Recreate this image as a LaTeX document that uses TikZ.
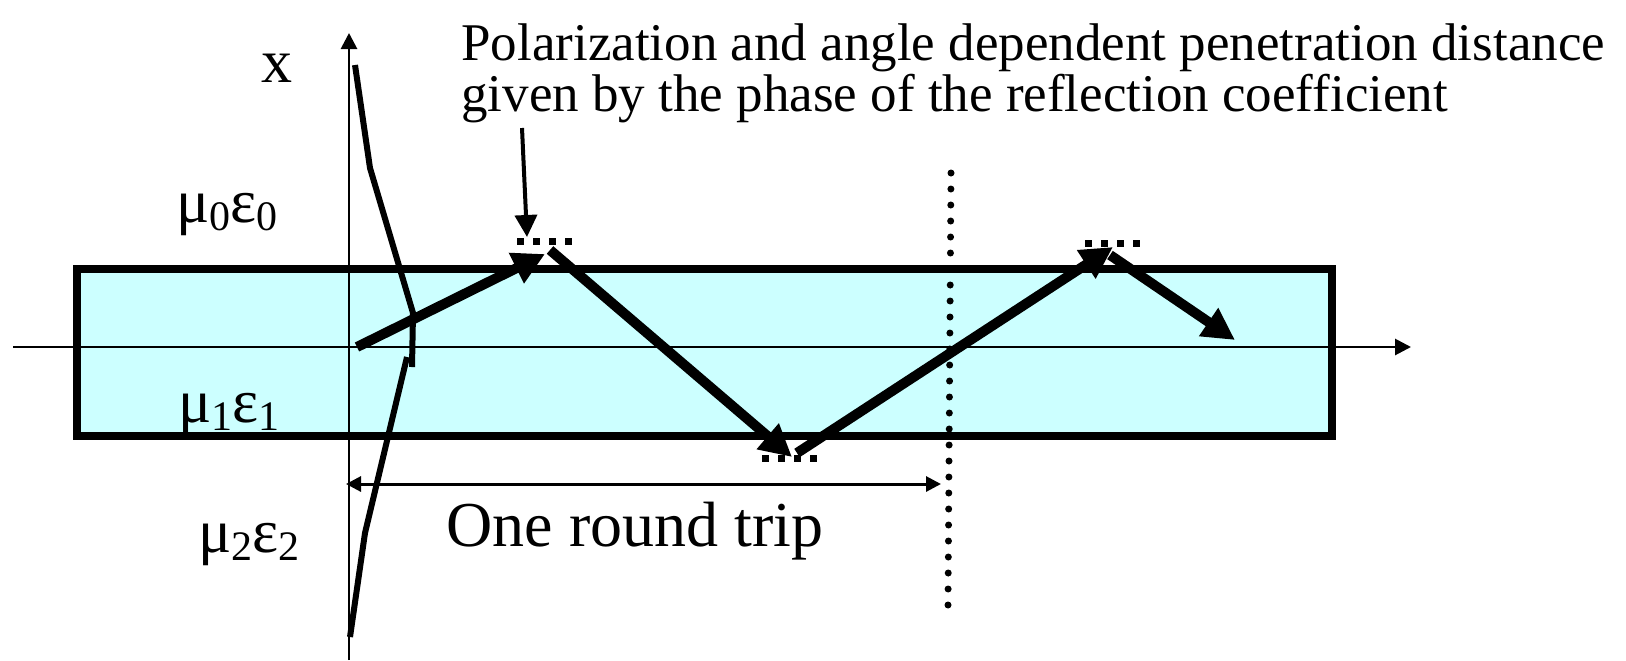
\documentclass[tikz,border=0pt]{standalone}
\usepackage{fontspec}
\setmainfont{Liberation Serif}
\usetikzlibrary{arrows.meta}
\definecolor{slabfill}{HTML}{CCFFFF}
\newcommand{\sbx}[1]{\raisebox{-0.3ex}{\fontsize{21}{21}\selectfont #1}}

\begin{document}
\begin{tikzpicture}[x=0.5pt, y=-0.5pt,
  ray/.style={line width=5pt, -{Triangle[length=16pt,width=16pt]}},
  axis/.style={line width=1.4pt, -{Triangle[length=8pt,width=8pt]}},
  bounce/.style={line width=3.5pt, dash pattern=on 3.5pt off 4.5pt},
  lbl/.style={inner sep=0pt, font=\fontsize{31}{31}\selectfont}]
  \useasboundingbox (0,0) rectangle (1626,660);

  \fill[slabfill] (76.5,268.5) rectangle (1332,436);
  \coordinate (hL) at (13,347);
  \coordinate (hR) at (1411,347);
  \coordinate (vB) at (349,660);
  \coordinate (vT) at (349,33);
  \draw[axis] (hL) -- (hR);
  \draw[axis] (vB) -- (vT);

  \draw[line width=3pt] (355,65) -- (370,168) -- (413,313) -- (412,367);
  \draw[line width=3pt] (407,357) -- (365,533) -- (350,637);
  \draw[line width=4pt] (76.5,268.5) rectangle (1332,436);

  \node[lbl] (xlab) at (277,68) {x};
  \node[lbl, anchor=base] (med0) at (227,222) {μ\sbx{0}ε\sbx{0}};
  \node[lbl, anchor=base] (med1) at (229,422) {μ\sbx{1}ε\sbx{1}};
  \node[lbl, anchor=base] (med2) at (249,552) {μ\sbx{2}ε\sbx{2}};
  \node[lbl, anchor=base, font=\fontsize{32}{32}\selectfont] (trip) at (635,546) {One round trip};
  \node[inner sep=0pt, anchor=base west, font=\fontsize{26.5}{26.5}\selectfont] (note1)
    at (461,60) {Polarization and angle dependent penetration distance};
  \node[inner sep=0pt, anchor=base west, font=\fontsize{26.5}{26.5}\selectfont] (note2)
    at (461,111) {given by the phase of the reflection coefficient};

  \coordinate (nt) at (522,128);
  \coordinate (nh) at (527,237);
  \draw[line width=2pt, -{Triangle[length=11pt,width=11pt]}] (nt) -- (nh);

  \foreach \x/\y in {517/241.5, 1085/243.5, 762/458.5} {
    \draw[bounce] (\x,\y) -- ++(55,0);
  }

  \coordinate (p0) at (357,347);
  \coordinate (p1) at (545,254);
  \coordinate (q1) at (550,250);
  \coordinate (p2) at (792,457);
  \coordinate (q2) at (797,453);
  \coordinate (p3) at (1113,247);
  \coordinate (q3) at (1110,255);
  \coordinate (p4) at (1235,340);
  \foreach \a/\b in {p0/p1, q1/p2, q2/p3, q3/p4} {
    \draw[ray] (\a) -- (\b);
  }

  \coordinate (dimL) at (346,484);
  \coordinate (dimR) at (941,484);
  \draw[line width=1.5pt, {Triangle[length=7.5pt,width=7.5pt]}-{Triangle[length=7.5pt,width=7.5pt]}] (dimL) -- (dimR);
  \draw[line width=3.5pt, line cap=round, dash pattern=on 0pt off 8pt] (951,173) -- (948,605);
\end{tikzpicture}
\end{document}
